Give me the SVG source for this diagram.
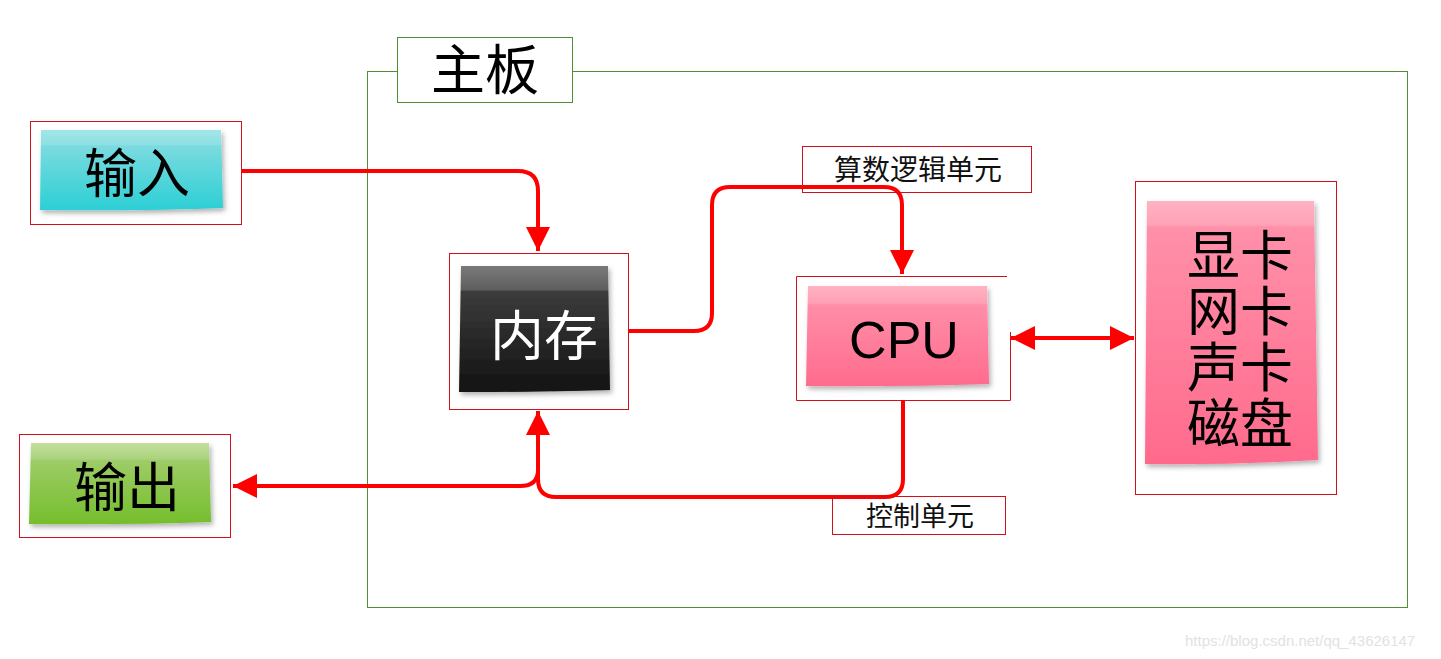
<svg xmlns="http://www.w3.org/2000/svg" width="1441" height="659" viewBox="0 0 1441 659">
<style>
.frame{fill:none;stroke:#d0101a;stroke-width:1}
.gframe{stroke:#4e8f33;stroke-width:1}
.cjk{font-family:"Noto Sans CJK SC",sans-serif;fill:#000}
.lbl{font-family:"Noto Sans CJK SC",sans-serif;fill:#111;text-anchor:middle}
.conn{fill:none;stroke:#ff0000;stroke-width:4;stroke-linejoin:round}
</style>
<defs>
<linearGradient id="gCyan" x1="0" y1="0" x2="0" y2="1"><stop offset="0" stop-color="#a3e6e8"/><stop offset="0.18" stop-color="#8de0e3"/><stop offset="0.2" stop-color="#7adbdf"/><stop offset="1" stop-color="#2ccfd5"/></linearGradient>
<linearGradient id="gGreen" x1="0" y1="0" x2="0" y2="1"><stop offset="0" stop-color="#c3df9f"/><stop offset="0.2" stop-color="#aad27a"/><stop offset="0.22" stop-color="#9dcc66"/><stop offset="1" stop-color="#75be2c"/></linearGradient>
<linearGradient id="gBlack" x1="0" y1="0" x2="0" y2="1"><stop offset="0" stop-color="#7a7a7a"/><stop offset="0.19" stop-color="#5e5e5e"/><stop offset="0.2" stop-color="#3c3c3c"/><stop offset="1" stop-color="#121212"/></linearGradient>
<linearGradient id="gPink" x1="0" y1="0" x2="0" y2="1"><stop offset="0" stop-color="#ffb3c3"/><stop offset="0.17" stop-color="#ffa0b5"/><stop offset="0.19" stop-color="#ff8ea8"/><stop offset="1" stop-color="#ff6b8d"/></linearGradient>
<linearGradient id="gPink2" x1="0" y1="0" x2="0" y2="1"><stop offset="0" stop-color="#ffb3c3"/><stop offset="0.09" stop-color="#ffa2b7"/><stop offset="0.1" stop-color="#ff90a9"/><stop offset="1" stop-color="#ff6a8c"/></linearGradient>
<filter id="shadow" x="-10%" y="-10%" width="125%" height="130%"><feDropShadow dx="2" dy="3" stdDeviation="2.5" flood-color="#000" flood-opacity="0.3"/></filter>
<marker id="arr" viewBox="0 0 10 10" refX="10" refY="5" markerWidth="6" markerHeight="6.5" orient="auto" markerUnits="strokeWidth"><path d="M0,0 L10,5 L0,10 z" fill="#ff0000"/></marker>
<marker id="arrS" viewBox="0 0 10 10" refX="0" refY="5" markerWidth="6" markerHeight="6.5" orient="auto" markerUnits="strokeWidth"><path d="M10,0 L0,5 L10,10 z" fill="#ff0000"/></marker>
</defs>
<rect width="1441" height="659" fill="#fff"/>

<g id="mainboard">
<rect x="367.5" y="71.5" width="1040" height="536" fill="none" class="gframe"/>
<rect x="397.5" y="37.5" width="175" height="65" fill="#fff" class="gframe"/>
<text x="485" y="90" class="cjk" font-size="54" text-anchor="middle">主板</text>
</g>

<g id="connectors">
<path class="conn" d="M241,171 H518 Q538,171 538,191 V251" marker-end="url(#arr)"/>
<path class="conn" d="M628,331 H694 Q712,331 712,313 V205 Q712,187 730,187 H884 Q902,187 902,205 V274" marker-end="url(#arr)"/>
<path class="conn" d="M903,400 V479 Q903,497 885,497 H556 Q538,497 538,479 V411" marker-end="url(#arr)"/>
<path class="conn" d="M538,470 Q538,486 520,486 H233" marker-end="url(#arr)"/>
<path class="conn" d="M1011,338 H1134" marker-start="url(#arrS)" marker-end="url(#arr)"/>
</g>

<g id="input">
<rect x="30.5" y="121.5" width="211" height="103" class="frame"/>
<path d="M41,130 H221 L223,208 Q150,211 40,210 Z" fill="url(#gCyan)" filter="url(#shadow)"/>
<text x="137" y="193" class="cjk" font-size="53" text-anchor="middle">输入</text>
</g>

<g id="output">
<rect x="19.5" y="434.5" width="211" height="103" class="frame"/>
<path d="M31,443 H209 L211,522 Q130,525 29,524 Z" fill="url(#gGreen)" filter="url(#shadow)"/>
<text x="127" y="507" class="cjk" font-size="53" text-anchor="middle">输出</text>
</g>

<g id="memory">
<rect x="449.5" y="253.5" width="179" height="156" class="frame"/>
<path d="M461,266 H608 L610,390 Q540,392 459,392 Z" fill="url(#gBlack)" filter="url(#shadow)"/>
<text x="544" y="356" class="cjk" font-size="54" style="fill:#fff" text-anchor="middle">内存</text>
</g>

<g id="cpu">
<path d="M1007,276.5 H796.5 V400.5 H1010.5 V332" class="frame"/>
<path d="M808,286 H987 L989,384 Q900,387 806,386 Z" fill="url(#gPink)" filter="url(#shadow)"/>
<text x="904" y="358" font-family="'Liberation Sans',Arial,sans-serif" font-size="52" text-anchor="middle" fill="#000">CPU</text>
</g>

<g id="devices">
<rect x="1135.5" y="181.5" width="201" height="313" class="frame"/>
<path d="M1147,201 H1314 L1318,460 Q1230,465 1145,464 Z" fill="url(#gPink2)" filter="url(#shadow)"/>
<text class="cjk" font-size="53" text-anchor="middle"><tspan x="1240" y="275">显卡</tspan><tspan x="1240" y="331">网卡</tspan><tspan x="1240" y="387">声卡</tspan><tspan x="1240" y="443">磁盘</tspan></text>
</g>

<g id="alu-label">
<rect x="802.5" y="146.5" width="229" height="46" fill="#fff" class="frame"/>
<text x="918" y="180" class="lbl" font-size="28">算数逻辑单元</text>
</g>

<g id="cu-label">
<rect x="832.5" y="496.5" width="173" height="38" fill="#fff" class="frame"/>
<text x="920" y="526" class="lbl" font-size="27">控制单元</text>
</g>

<text x="1185" y="646" font-family="'Liberation Sans',Arial,sans-serif" font-size="15" fill="#e2e2e2">https://blog.csdn.net/qq_43626147</text>
</svg>
